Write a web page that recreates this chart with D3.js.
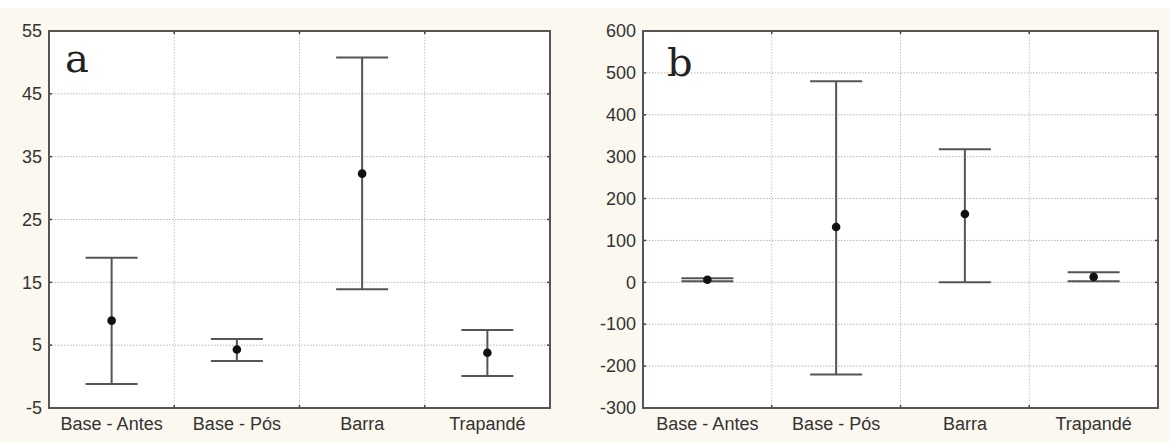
<!DOCTYPE html>
<html><head><meta charset="utf-8">
<script src="https://cdn.jsdelivr.net/npm/d3@7"></script>
<style>
html,body{margin:0;padding:0;background:#fbf8ef;}
svg{display:block;}
</style></head>
<body>
<svg id="chart" width="1170" height="442"></svg>
<script>
const categories = ["Base - Antes", "Base - Pós", "Barra", "Trapandé"];
const aMean  = [8.9, 4.3, 32.3, 3.8];
const aUpper = [18.9, 6.0, 50.8, 7.4];
const aLower = [-1.2, 2.5, 13.9, 0.1];
const aTicks = [-5, 5, 15, 25, 35, 45, 55];
const bMean  = [6, 132, 163, 13];
const bUpper = [10, 480, 318, 24];
const bLower = [2.5, -220, 0, 2.5];
const bTicks = [-300, -200, -100, 0, 100, 200, 300, 400, 500, 600];

const svg = d3.select("#chart");
svg.append("rect").attr("x",0).attr("y",0).attr("width",1170).attr("height",442).attr("fill","#fbf8ef");
svg.append("rect").attr("x",0).attr("y",0).attr("width",1170).attr("height",8).attr("fill","#ffffff");

function panel(opts){
  const {x0,x1,y0,y1,ticks,mean,upper,lower,letter,lx,ly} = opts;
  const x = d3.scaleBand().domain(categories).range([x0,x1]).padding(0);
  const y = d3.scaleLinear().domain([ticks[0], ticks[ticks.length-1]]).range([y1,y0]);
  const g = svg.append("g");
  g.append("rect").attr("x",x0).attr("y",y0).attr("width",x1-x0).attr("height",y1-y0).attr("fill","#ffffff");
  g.selectAll(".hg").data(ticks.slice(1,-1)).enter().append("line")
    .attr("x1",x0).attr("x2",x1).attr("y1",d=>y(d)).attr("y2",d=>y(d))
    .attr("stroke","#b8b8b8").attr("stroke-width",1).attr("stroke-dasharray","1.5,1.5");
  const bounds = categories.slice(1).map(c=>x(c));
  g.selectAll(".vg").data(bounds).enter().append("line")
    .attr("x1",d=>d).attr("x2",d=>d).attr("y1",y0).attr("y2",y1)
    .attr("stroke","#c4c4c4").attr("stroke-width",1).attr("stroke-dasharray","1.5,1.5");
  const yAxis = d3.axisLeft(y).tickValues(ticks).tickSize(0).tickPadding(7).tickFormat(d => String(d));
  const ya = g.append("g").attr("transform",`translate(${x0},0)`).call(yAxis);
  ya.select(".domain").remove();
  ya.selectAll("text").attr("font-family","'Liberation Sans', Arial, sans-serif").attr("font-size",18).attr("fill","#333");
  const xAxis = d3.axisBottom(x).tickSize(0).tickPadding(9);
  const xa = g.append("g").attr("transform",`translate(0,${y1})`).call(xAxis);
  xa.select(".domain").remove();
  xa.selectAll("text").attr("font-family","'Liberation Sans', Arial, sans-serif").attr("font-size",18).attr("fill","#333");
  const tk = g.append("g").attr("stroke","#444").attr("stroke-width",1.5);
  ticks.forEach(t=>{
    tk.append("line").attr("x1",x0).attr("x2",x0+3).attr("y1",y(t)).attr("y2",y(t));
    tk.append("line").attr("x1",x1-3).attr("x2",x1).attr("y1",y(t)).attr("y2",y(t));
  });
  bounds.forEach(b=>{
    tk.append("line").attr("x1",b).attr("x2",b).attr("y1",y0).attr("y2",y0+3);
    tk.append("line").attr("x1",b).attr("x2",b).attr("y1",y1-3).attr("y2",y1);
  });
  g.append("rect").attr("x",x0).attr("y",y0).attr("width",x1-x0).attr("height",y1-y0)
    .attr("fill","none").attr("stroke","#555").attr("stroke-width",2);
  const cap = 26;
  const eb = g.append("g").attr("stroke","#555").attr("stroke-width",2);
  categories.forEach((c,i)=>{
    const cx = x(c) + x.bandwidth()/2;
    eb.append("line").attr("x1",cx).attr("x2",cx).attr("y1",y(upper[i])).attr("y2",y(lower[i]));
    eb.append("line").attr("x1",cx-cap).attr("x2",cx+cap).attr("y1",y(upper[i])).attr("y2",y(upper[i]));
    eb.append("line").attr("x1",cx-cap).attr("x2",cx+cap).attr("y1",y(lower[i])).attr("y2",y(lower[i]));
  });
  g.selectAll(".pt").data(categories).enter().append("circle")
    .attr("cx",c=>x(c)+x.bandwidth()/2).attr("cy",(c,i)=>y(mean[i])).attr("r",4.3).attr("fill","#111");
  g.append("text").attr("x",x0+lx).attr("y",y0+ly).text(letter)
    .attr("font-family","'DejaVu Serif', serif").attr("font-size",40).attr("fill","#222");
}

panel({x0:49,x1:550,y0:31,y1:408,ticks:aTicks,mean:aMean,upper:aUpper,lower:aLower,letter:"a",lx:16,ly:41});
panel({x0:643,x1:1158,y0:31,y1:408,ticks:bTicks,mean:bMean,upper:bUpper,lower:bLower,letter:"b",lx:24,ly:45});
</script>
</body></html>
